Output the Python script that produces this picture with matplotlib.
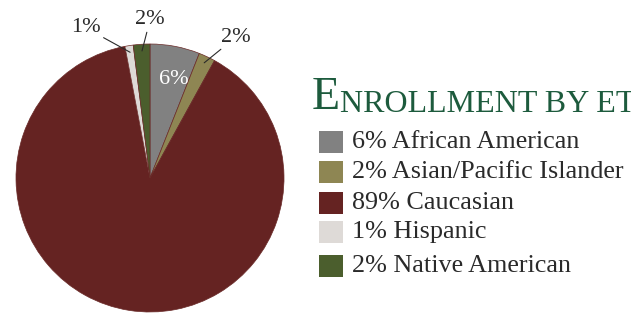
import numpy as np
import matplotlib
matplotlib.use("Agg")
import matplotlib.pyplot as plt

# data
groups = ["African American", "Asian/Pacific Islander", "Caucasian", "Hispanic", "Native American"]
shares = [6, 2, 89, 1, 2]
colors = ["#818181", "#8e8653", "#652322", "#dedad7", "#4b5e2d"]

W, H = 631, 313
fig = plt.figure(figsize=(W / 100, H / 100), dpi=100)
ax = fig.add_axes([0, 0, 1, 1])

cx, cy, r = 150, H - 178, 134
wedges, _ = ax.pie(shares, colors=colors, startangle=90, counterclock=False,
                   center=(cx, cy), radius=r, frame=True,
                   wedgeprops=dict(linewidth=0.5, edgecolor="#6a2a28"))
ax.set_xlim(0, W)
ax.set_ylim(0, H)
ax.set_aspect("equal")
ax.axis("off")

serif = ["Liberation Serif", "DejaVu Serif"]

# slice labels
def mid(w, frac):
    a = np.deg2rad((w.theta1 + w.theta2) / 2)
    return cx + frac * r * np.cos(a), cy + frac * r * np.sin(a)

# 6% inside
x6, y6 = mid(wedges[0], 0.75)
ax.text(x6 + 5, y6, "%d%%" % shares[0], color="white", fontsize=16, family=serif,
        ha="center", va="center")

outside = {1: (236, H - 37), 3: (86, H - 28), 4: (150, H - 20)}
for i, (tx, ty) in outside.items():
    ax.annotate("%d%%" % shares[i], xy=mid(wedges[i], 0.95), xytext=(tx, ty),
                fontsize=16, family=serif, color="#2a2a2a", ha="center", va="center",
                arrowprops=dict(arrowstyle="-", color="#2a2a2a", lw=0.8,
                                shrinkA=0, shrinkB=0))

# title in small caps (cut at the right edge as in the source)
green = "#1d5b3d"
t1 = ax.text(312, H - 109, "E", fontsize=33, family=serif, color=green, va="baseline")
ax.annotate("NROLLMENT BY ETHNICITY", xy=(1, 0), xycoords=t1, xytext=(0, 0),
            textcoords="offset points", fontsize=23, family=serif, color=green,
            va="bottom", ha="left")

# legend
rows_y = [142, 172, 203, 232, 266]
for yy, g, s, c in zip(rows_y, groups, shares, colors):
    ax.add_patch(plt.Rectangle((319, H - yy - 11), 24, 22, color=c, lw=0))
    ax.text(352, H - yy, "%d%% %s" % (s, g), fontsize=18.8, family=serif,
            color="#2a2a2a", va="center", ha="left")

fig.savefig("out.png", dpi=100)
